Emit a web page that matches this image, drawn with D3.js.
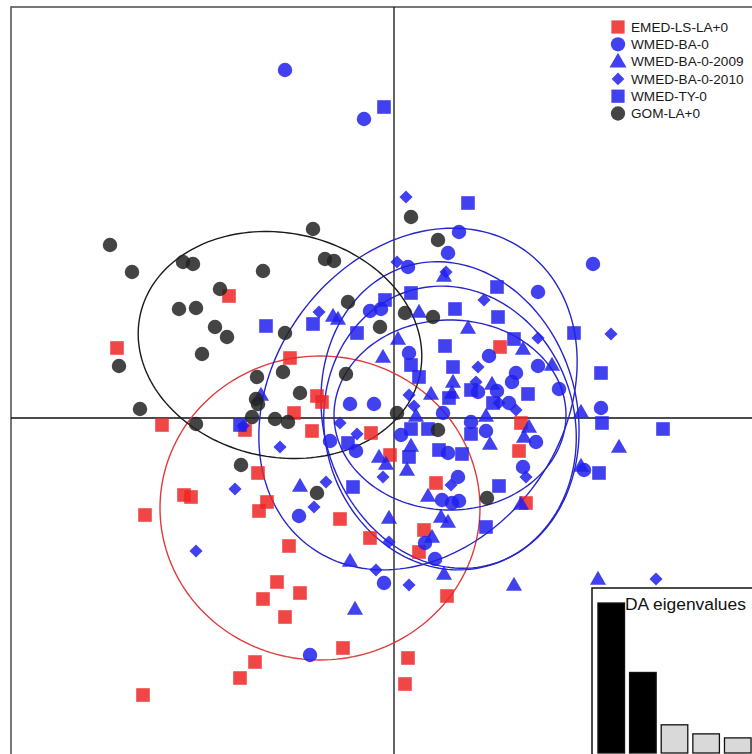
<!DOCTYPE html>
<html>
<head>
<meta charset="utf-8">
<script src="https://cdn.jsdelivr.net/npm/d3@7"></script>
<style>
  html, body { margin: 0; padding: 0; background: #fff; }
  svg { display: block; }
  text { font-family: "Liberation Sans", Arial, Helvetica, sans-serif; }
</style>
</head>
<body>
<svg id="chart" width="752" height="754"></svg>
<script>
// Group labels, in legend order
const groups = ["EMED-LS-LA+0", "WMED-BA-0", "WMED-BA-0-2009", "WMED-BA-0-2010", "WMED-TY-0", "GOM-LA+0"];

// Discriminant scores [LD1, LD2] for each individual, per group
const emedLS = [
  [-1.65, 1.22], [-2.77, 0.70], [-1.04, 0.60], [-0.77, 0.22], [-0.72, 0.16], [-1.00, 0.05],
  [-2.32, -0.07], [-1.49, -0.12], [-0.82, -0.13], [-0.23, -0.15], [-1.36, -0.55], [-2.10, -0.77],
  [-2.03, -0.79], [-2.49, -0.97], [-1.27, -0.84], [-1.35, -0.93], [-0.54, -1.01], [-0.24, -1.20],
  [-1.05, -1.28], [-1.17, -1.64], [-1.31, -1.81], [-0.94, -1.75], [-1.09, -1.99], [-0.51, -2.30],
  [-1.39, -2.44], [-1.54, -2.60], [-2.51, -2.77], [0.42, -0.65], [1.32, -0.85], [0.30, -1.12],
  [0.25, -1.34], [0.53, -1.78], [0.14, -2.40], [0.11, -2.66], [1.06, 0.71], [1.27, -0.05],
  [1.25, -0.33], [-0.04, -0.37]
];
const wmedBA = [
  [-1.09, 3.48], [-0.30, 2.99], [0.65, 1.86], [0.54, 1.65], [0.14, 1.51], [1.99, 1.54],
  [1.44, 1.26], [-0.13, 1.09], [-0.24, 1.07], [0.15, 0.65], [0.95, 0.62], [1.44, 0.52],
  [1.22, 0.45], [1.18, 0.36], [1.65, 0.29], [1.03, 0.27], [0.84, 0.26], [1.15, 0.15],
  [-0.20, 0.14], [-0.44, 0.14], [0.49, 0.05], [2.07, 0.10], [0.77, -0.04], [0.92, -0.13],
  [0.07, -0.17], [-0.64, -0.23], [1.42, -0.24], [-0.38, -0.33], [0.54, -0.35], [1.29, -0.49],
  [1.90, -0.52], [0.64, -0.59], [0.48, -0.82], [0.58, -0.85], [0.65, -0.83], [0.31, -1.25],
  [0.41, -1.41], [-0.10, -1.65], [-0.95, -0.98], [-0.84, -2.37]
];
const wmedBA2009 = [
  [0.50, 1.41], [0.25, 1.05], [-0.61, 1.01], [-0.56, 0.98], [0.74, 0.89], [0.04, 0.78],
  [1.29, 0.68], [-0.11, 0.60], [1.58, 0.52], [0.59, 0.35], [0.58, 0.24], [0.37, 0.23],
  [0.98, 0.33], [-1.33, 0.22], [0.22, 0.01], [0.92, 0.01], [1.87, 0.05], [1.35, -0.10],
  [1.30, -0.20], [0.96, -0.27], [0.17, -0.29], [2.25, -0.30], [-0.15, -0.40], [-0.08, -0.47],
  [0.13, -0.53], [1.87, -0.49], [-0.94, -0.69], [0.34, -0.79], [1.27, -0.87], [-0.05, -1.01],
  [0.47, -1.00], [0.54, -1.05], [0.38, -1.20], [0.50, -1.57], [1.20, -1.68], [2.04, -1.62],
  [-0.44, -1.44], [-0.39, -1.92]
];
const wmedBA2010 = [
  [0.12, 2.21], [0.03, 1.56], [0.52, 1.46], [0.90, 1.18], [-0.75, 1.06], [2.17, 0.84],
  [1.44, 0.80], [0.84, 0.51], [0.82, 0.36], [0.15, 0.23], [1.05, 0.15], [1.22, 0.08],
  [0.20, 0.12], [-1.51, -0.08], [-0.54, -0.05], [-0.37, -0.16], [-1.14, -0.29], [-0.11, -0.59],
  [1.32, -0.59], [0.57, -0.67], [-0.68, -0.64], [-1.59, -0.71], [-0.80, -0.89], [-0.05, -1.24],
  [-0.18, -1.52], [0.15, -1.67], [-1.98, -1.33], [2.62, -1.61]
];
const wmedTY = [
  [-0.10, 3.11], [0.74, 2.15], [1.03, 1.31], [0.17, 1.25], [-0.09, 1.18], [0.61, 1.09],
  [1.04, 1.01], [-1.28, 0.92], [-0.81, 0.94], [-0.37, 0.85], [1.80, 0.85], [1.20, 0.79],
  [0.51, 0.72], [0.17, 0.53], [0.59, 0.51], [2.07, 0.45], [0.25, 0.41], [0.77, 0.28],
  [1.34, 0.24], [0.55, 0.20], [0.99, 0.15], [2.08, -0.05], [2.69, -0.11], [0.17, -0.11],
  [0.34, -0.11], [0.77, -0.16], [-0.46, -0.25], [0.45, -0.32], [0.68, -0.36], [0.15, -0.39],
  [2.05, -0.55], [1.05, -0.68], [-1.54, -0.07], [-0.41, -0.69], [0.92, -1.09]
];
const gomLA = [
  [-2.84, 1.73], [-2.62, 1.46], [-2.11, 1.56], [-2.01, 1.54], [-1.31, 1.47], [-0.81, 1.89],
  [-0.69, 1.59], [-0.60, 1.57], [-1.74, 1.29], [-2.15, 1.09], [-1.98, 1.10], [-1.79, 0.91],
  [-1.67, 0.81], [-1.92, 0.64], [-1.09, 0.85], [-2.75, 0.52], [-0.46, 1.16], [-1.37, 0.41],
  [-1.11, 0.46], [-0.48, 0.44], [-0.94, 0.25], [-1.38, 0.19], [-1.36, 0.14], [-2.54, 0.09],
  [-1.42, 0.01], [-1.19, -0.01], [-1.06, -0.04], [-1.98, -0.06], [-1.53, -0.47], [-0.77, -0.75],
  [0.17, 2.01], [0.44, 1.78], [0.11, 1.05], [0.39, 1.01], [-0.14, 0.91], [0.03, 0.05],
  [0.44, -0.12], [0.93, -0.80]
];

// Inertia ellipses per group: centre [LD1, LD2], semi-axes [major, minor], rotation (degrees)
const ellipseCentres = [[-0.74, -0.90], [0.56, 0.03], [0.56, -0.10], [0.24, 0.19], [0.56, 0.03], [-1.14, 0.73]];
const ellipseAxes = [[1.60, 1.52], [1.55, 1.27], [1.43, 1.25], [1.83, 1.45], [1.16, 0.95], [1.43, 1.12]];
const ellipseAngles = [0, 105, 105, 54, 0, -12];

// DA eigenvalues (first two retained)
const eigenvalues = [74.5, 40.0, 14.0, 9.5, 7.5];
const retainedDA = 2;

// Styling per group
const fills = ["#ed2626", "#2020ed", "#2020ed", "#2020ed", "#2020ed", "#232323"];
const ellipseStroke = ["#e03a3a", "#2626cc", "#2626cc", "#2626cc", "#2626cc", "#1a1a1a"];
const shapes = ["square", "circle", "triangle", "diamond", "square", "circle"];
const groupData = [emedLS, wmedBA, wmedBA2009, wmedBA2010, wmedTY, gomLA];

const svg = d3.select("#chart");

const x = d3.scaleLinear().domain([-3.83, 3.66]).range([11, 760]);
const y = d3.scaleLinear().domain([-3.42, 4.11]).range([760, 7]);

// plot frame
svg.append("rect")
  .attr("x", x(-3.83)).attr("y", y(4.11))
  .attr("width", 800).attr("height", 800)
  .attr("fill", "none").attr("stroke", "#555").attr("stroke-width", 1.6);

// axes through the origin
svg.append("line")
  .attr("x1", x(-3.83)).attr("x2", x(3.66)).attr("y1", y(0)).attr("y2", y(0))
  .attr("stroke", "#111").attr("stroke-width", 1.3);
svg.append("line")
  .attr("x1", x(0)).attr("x2", x(0)).attr("y1", y(4.11)).attr("y2", y(-3.42))
  .attr("stroke", "#111").attr("stroke-width", 1.3);

// ellipses
function ellipsePath(c, ax, angDeg) {
  const th = angDeg * Math.PI / 180;
  const pts = d3.range(0, 2 * Math.PI + 0.001, Math.PI / 90).map(t => {
    const ex = ax[0] * Math.cos(t), ey = ax[1] * Math.sin(t);
    return [x(c[0] + ex * Math.cos(th) - ey * Math.sin(th)),
            y(c[1] + ex * Math.sin(th) + ey * Math.cos(th))];
  });
  return d3.line()(pts) + "Z";
}
const ellG = svg.append("g");
groups.forEach((g, i) => {
  ellG.append("path")
    .attr("d", ellipsePath(ellipseCentres[i], ellipseAxes[i], ellipseAngles[i]))
    .attr("fill", "none")
    .attr("stroke", ellipseStroke[i])
    .attr("stroke-width", 1.4);
});

// point symbols
const symbolFor = {
  circle: d3.symbol().type(d3.symbolCircle).size(165),
  square: d3.symbol().type(d3.symbolSquare).size(185),
  triangle: d3.symbol().type(d3.symbolTriangle).size(112),
  diamond: d3.symbol().type(d3.symbolSquare).size(86)
};

const ptsG = svg.append("g");
groups.forEach((g, i) => {
  ptsG.append("g").selectAll("path")
    .data(groupData[i])
    .join("path")
    .attr("d", symbolFor[shapes[i]]())
    .attr("transform", d => `translate(${x(d[0])},${y(d[1])})` + (shapes[i] === "diamond" ? " rotate(45)" : ""))
    .attr("fill", fills[i])
    .attr("fill-opacity", 0.85);
});

// legend
const leg = svg.append("g").attr("transform", "translate(618,27)");
groups.forEach((g, i) => {
  const row = leg.append("g").attr("transform", `translate(0,${i * 17.3})`);
  const legSym = {
    circle: d3.symbol().type(d3.symbolCircle).size(160),
    square: d3.symbol().type(d3.symbolSquare).size(175),
    triangle: d3.symbol().type(d3.symbolTriangle).size(125),
    diamond: d3.symbol().type(d3.symbolSquare).size(80)
  }[shapes[i]];
  row.append("path")
    .attr("d", legSym())
    .attr("transform", shapes[i] === "diamond" ? "rotate(45)" : (shapes[i] === "triangle" ? "translate(0,1)" : null))
    .attr("fill", fills[i]).attr("fill-opacity", 0.85);
  row.append("text")
    .attr("x", 13).attr("y", 4.8)
    .attr("font-size", 13.6)
    .attr("fill", "#1a1a1a")
    .text(g);
});

// eigenvalue inset
const inset = svg.append("g");
inset.append("rect")
  .attr("x", 592).attr("y", 588).attr("width", 200).attr("height", 200)
  .attr("fill", "#fff").attr("stroke", "#111").attr("stroke-width", 1.5);
const bx = d3.scaleBand().domain(d3.range(eigenvalues.length)).range([597, 752]).paddingInner(0.16).paddingOuter(0.03);
const by = d3.scaleLinear().domain([0, d3.max(eigenvalues)]).range([753, 603]);
inset.selectAll("rect.bar")
  .data(eigenvalues)
  .join("rect")
  .attr("class", "bar")
  .attr("x", (d, i) => bx(i))
  .attr("y", d => by(d))
  .attr("width", bx.bandwidth())
  .attr("height", d => by(0) - by(d))
  .attr("fill", (d, i) => i < retainedDA ? "#000" : "#d9d9d9")
  .attr("stroke", "#111").attr("stroke-width", 1.3);
inset.append("text")
  .attr("x", 625).attr("y", 610)
  .attr("font-size", 17.4)
  .attr("fill", "#111")
  .text("DA eigenvalues");
</script>
</body>
</html>
